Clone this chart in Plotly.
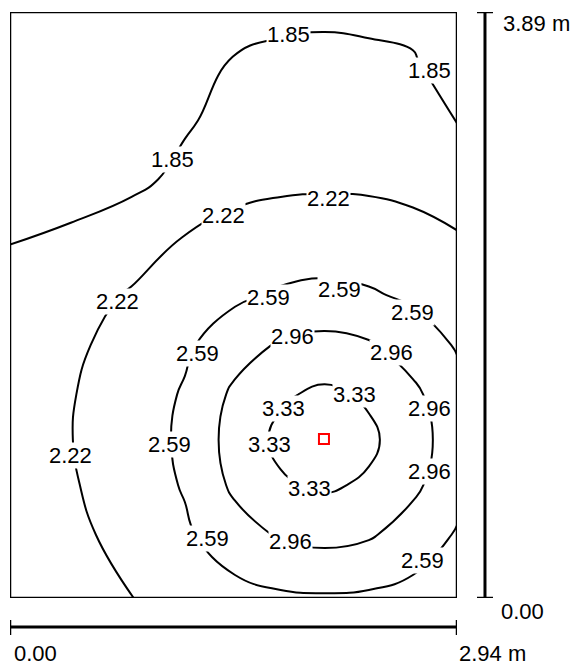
import plotly.graph_objects as go

# Grid positions (m)
x_m = [0, 0.4, 0.8, 1.15, 1.48, 1.78, 2.07, 2.36, 2.65, 2.94]
y_m = [0, 0.42, 0.75, 1.05, 1.35, 1.68, 2.01, 2.38, 2.78, 3.17, 3.57, 3.89]

# Estimated values (rows from bottom y=0 to top y=3.89)
row_000 = [2.02, 2.13, 2.215, 2.346, 2.47, 2.53, 2.55, 2.53, 2.47, 2.36]
row_042 = [2.06, 2.14, 2.334, 2.534, 2.80, 3.00, 3.07, 3.00, 2.80, 2.56]
row_075 = [2.078, 2.19, 2.392, 2.619, 3.034, 3.287, 3.38, 3.28, 3.035, 2.718]
row_105 = [2.081, 2.213, 2.42, 2.65, 3.111, 3.412, 3.60, 3.403, 3.112, 2.776]
row_135 = [2.061, 2.203, 2.391, 2.624, 3.033, 3.285, 3.399, 3.279, 3.034, 2.718]
row_168 = [2.018, 2.165, 2.333, 2.533, 2.798, 3.00, 3.067, 2.996, 2.798, 2.558]
row_201 = [1.948, 2.094, 2.249, 2.377, 2.527, 2.635, 2.684, 2.632, 2.527, 2.397]
row_238 = [1.84, 1.923, 2.068, 2.239, 2.318, 2.364, 2.378, 2.363, 2.318, 2.25]
row_278 = [1.60, 1.66, 1.76, 1.94, 2.131, 2.16, 2.17, 2.165, 2.133, 2.053]
row_317 = [1.58, 1.62, 1.68, 1.809, 1.966, 2.044, 2.057, 2.045, 1.984, 1.84]
row_357 = [1.52, 1.55, 1.60, 1.657, 1.87, 1.902, 1.916, 1.90, 1.872, 1.693]
row_389 = [1.48, 1.50, 1.54, 1.60, 1.726, 1.79, 1.803, 1.79, 1.765, 1.62]

levels = [1.85, 2.22, 2.59, 2.96, 3.33]
room_w = 2.94
room_h = 3.89
lum_x = [2.065]
lum_y = [1.056]

# Contour label placements (value, x m, y m)
label_vals = [1.85, 1.85, 1.85,
              2.22, 2.22, 2.22, 2.22,
              2.59, 2.59, 2.59, 2.59, 2.59, 2.59, 2.59,
              2.96, 2.96, 2.96, 2.96, 2.96,
              3.33, 3.33, 3.33, 3.33]
label_x = [1.832, 2.756, 1.066,
           2.098, 1.404, 0.710, 0.399,
           1.697, 2.170, 2.644, 1.230, 1.052, 1.302, 2.710,
           1.861, 2.512, 2.756, 2.756, 1.842,
           2.269, 1.796, 1.710, 1.973]
label_y = [3.741, 3.505, 2.908,
           2.649, 2.536, 1.965, 0.949,
           1.992, 2.051, 1.892, 1.626, 1.016, 0.392, 0.252,
           1.739, 1.633, 1.255, 0.843, 0.378,
           1.348, 1.261, 1.022, 0.724]

z = [row_000, row_042, row_075, row_105, row_135, row_168,
     row_201, row_238, row_278, row_317, row_357, row_389]

FONT = "Liberation Sans, Arial, sans-serif"

fig = go.Figure()
fig.add_trace(go.Contour(
    x=x_m, y=y_m, z=z,
    contours=dict(coloring="lines", start=levels[0], end=levels[-1] + 0.001,
                  size=round(levels[1] - levels[0], 2), showlabels=False),
    colorscale=[[0, "black"], [1, "black"]],
    line=dict(width=2, smoothing=1.3),
    showscale=False, hoverinfo="skip",
))
fig.add_trace(go.Scatter(
    x=lum_x, y=lum_y, mode="markers",
    marker=dict(symbol="square-open", size=10, color="red", line=dict(width=2, color="red")),
    hoverinfo="skip", showlegend=False,
))

shapes = [
    dict(type="rect", xref="x", yref="y", x0=0, x1=room_w, y0=0, y1=room_h,
         line=dict(color="black", width=2.5), layer="above"),
    dict(type="line", xref="x", yref="paper", x0=0, x1=room_w, y0=-0.0495, y1=-0.0495,
         line=dict(color="black", width=3)),
    dict(type="line", xref="x", yref="paper", x0=0, x1=0, y0=-0.0375, y1=-0.063,
         line=dict(color="black", width=2.5)),
    dict(type="line", xref="x", yref="paper", x0=room_w, x1=room_w, y0=-0.0375, y1=-0.063,
         line=dict(color="black", width=2.5)),
    dict(type="line", xref="paper", yref="y", x0=1.0626, x1=1.0626, y0=0, y1=room_h,
         line=dict(color="black", width=3)),
    dict(type="line", xref="paper", yref="y", x0=1.0447, x1=1.0805, y0=0, y1=0,
         line=dict(color="black", width=2.5)),
    dict(type="line", xref="paper", yref="y", x0=1.0447, x1=1.0805, y0=room_h, y1=room_h,
         line=dict(color="black", width=2.5)),
]

annotations = [
    dict(text=f"{room_h:.2f} m", xref="paper", yref="y", x=1.099, y=room_h,
         xanchor="left", yanchor="middle", yshift=-11, showarrow=False),
    dict(text="0.00", xref="paper", yref="y", x=1.095, y=0,
         xanchor="left", yanchor="middle", yshift=-13, showarrow=False),
    dict(text="0.00", xref="x", yref="paper", x=0.01, y=-0.094,
         xanchor="left", yanchor="middle", showarrow=False),
    dict(text=f"{room_w:.2f} m", xref="x", yref="paper", x=room_w, y=-0.094,
         xanchor="left", yanchor="middle", showarrow=False),
]
for v, lx, ly in zip(label_vals, label_x, label_y):
    annotations.append(dict(text=f"{v:.2f}", xref="x", yref="y", x=lx, y=ly,
                            xanchor="center", yanchor="middle", showarrow=False,
                            bgcolor="white", borderpad=0))

fig.update_layout(
    width=574, height=665,
    margin=dict(l=10, r=117, t=12, b=67),
    paper_bgcolor="white", plot_bgcolor="white",
    xaxis=dict(range=[0, room_w], visible=False, showgrid=False, zeroline=False),
    yaxis=dict(range=[0, room_h], visible=False, showgrid=False, zeroline=False),
    shapes=shapes, annotations=annotations,
    font=dict(family=FONT, size=22, color="black"),
    showlegend=False,
)

fig.write_html("out.html", config={"displayModeBar": False},
               post_script="document.body.style.margin='0px';"
                           "document.body.style.overflow='hidden';")
